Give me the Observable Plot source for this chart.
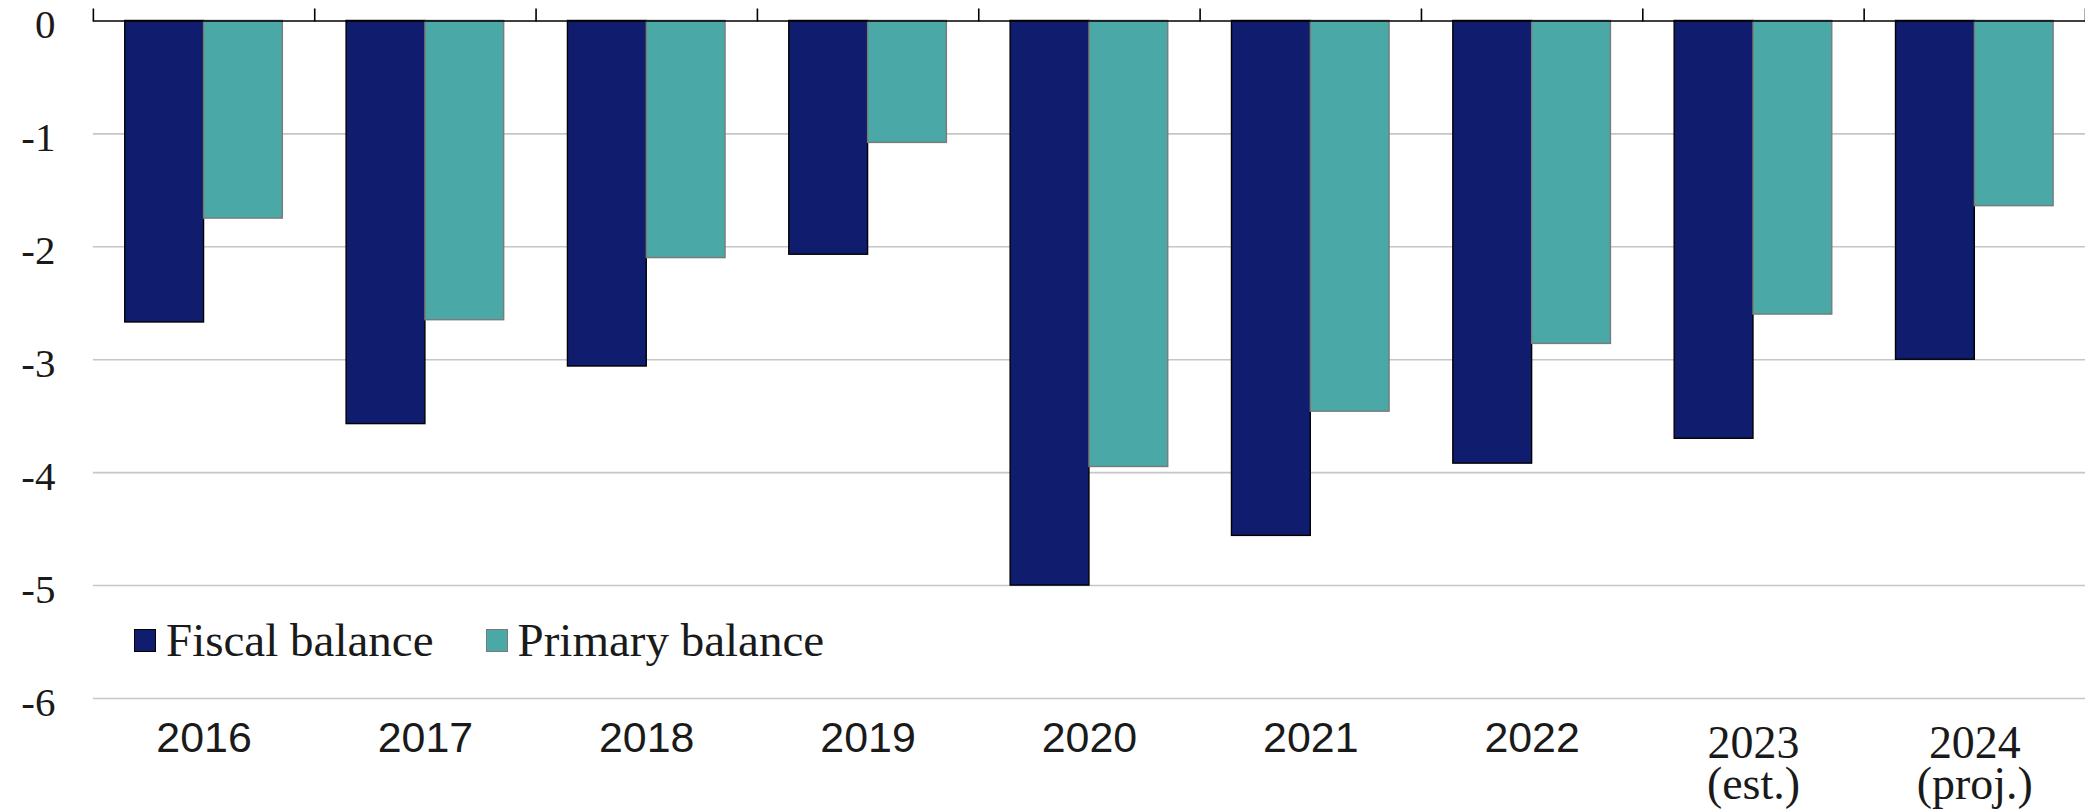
<!DOCTYPE html>
<html>
<head>
<meta charset="utf-8">
<script src="https://cdn.jsdelivr.net/npm/d3@7"></script>
<script src="https://cdn.jsdelivr.net/npm/@observablehq/plot@0.6"></script>
<style>
html, body { margin: 0; padding: 0; background: #fff; overflow: hidden; }
#wrap { position: relative; width: 2085px; height: 812px; overflow: hidden; }
#legend { position: absolute; left: 134px; top: 617px; display: flex; align-items: center;
  font-family: "Liberation Serif", serif; font-size: 47px; line-height: 47px; color: #1a1a1a; white-space: nowrap; }
#legend .sw { display: inline-block; width: 22px; height: 23px; box-sizing: border-box; margin-right: 10px; }
#legend .item { display: flex; align-items: center; margin-right: 52px; }
</style>
</head>
<body>
<div id="wrap"></div>
<script>
// ---- data ----
const years = ["2016", "2017", "2018", "2019", "2020", "2021", "2022", "2023\n(est.)", "2024\n(proj.)"];
const fiscalBalance = [-2.67, -3.57, -3.06, -2.07, -5.00, -4.56, -3.92, -3.70, -3.00];
const primaryBalance = [-1.75, -2.65, -2.10, -1.08, -3.95, -3.46, -2.86, -2.60, -1.64];
const seriesNames = ["Fiscal balance", "Primary balance"];
const yTicks = [0, -1, -2, -3, -4, -5, -6];

// ---- styles ----
const fills = ["#101c6e", "#4aa8a6"];
const strokes = ["#000000", "#7a7a7a"];
const groupPad = 0.144; // fraction of each year band left empty on each side

const fiscalRows = years.map((y, i) => ({i, year: y, value: fiscalBalance[i]}));
const primaryRows = years.map((y, i) => ({i, year: y, value: primaryBalance[i]}));
const sansIdx = years.map((y, i) => i).filter(i => !years[i].includes("\n"));
const serifIdx = years.map((y, i) => i).filter(i => years[i].includes("\n"));

const chart = Plot.plot({
  width: 2088,
  height: 812,
  marginLeft: 93,
  marginRight: 0,
  marginTop: 20.5,
  marginBottom: 113,
  x: {type: "linear", domain: [0, years.length], label: null},
  y: {domain: [-6, 0], label: null},
  style: {background: "white", overflow: "visible", color: "#1a1a1a", fontFamily: "Liberation Serif"},
  marks: [
    Plot.gridY(yTicks.filter(d => d !== 0), {stroke: "#c6c6c6", strokeOpacity: 1, strokeWidth: 1.6}),
    Plot.rectY(fiscalRows, {
      x1: d => d.i + groupPad, x2: d => d.i + 0.5, y1: 0, y2: "value",
      fill: fills[0], stroke: strokes[0], strokeWidth: 1.4
    }),
    Plot.rectY(primaryRows, {
      x1: d => d.i + 0.5, x2: d => d.i + 1 - groupPad, y1: 0, y2: "value",
      fill: fills[1], stroke: strokes[1], strokeWidth: 1.4
    }),
    Plot.ruleY([0], {stroke: "black", strokeWidth: 1.6}),
    // boundary ticks on top axis
    Plot.axisX(d3.range(years.length + 1), {
      anchor: "top", label: null, tickSize: 13, tickFormat: () => "", stroke: "black", strokeWidth: 1.6
    }),
    // year labels (sans)
    Plot.axisX(sansIdx.map(i => i + 0.5), {
      anchor: "bottom", label: null, tickSize: 0, tickPadding: 23,
      tickFormat: d => years[Math.floor(d)],
      fontFamily: "Liberation Sans", fontSize: 43
    }),
    // year labels (serif, two lines)
    Plot.axisX(serifIdx.map(i => i + 0.5), {
      anchor: "bottom", label: null, tickSize: 0, tickPadding: 30,
      tickFormat: d => years[Math.floor(d)],
      fontFamily: "Liberation Serif", fontSize: 46, lineHeight: 0.9
    }),
    Plot.axisY(yTicks, {
      anchor: "left", label: null, tickSize: 0, tickPadding: 38, dy: 4,
      tickFormat: d => String(d),
      fontFamily: "Liberation Serif", fontSize: 41
    })
  ]
});

const wrap = document.getElementById("wrap");
wrap.appendChild(chart);

const legend = document.createElement("div");
legend.id = "legend";
seriesNames.forEach((name, k) => {
  const item = document.createElement("span");
  item.className = "item";
  const sw = document.createElement("span");
  sw.className = "sw";
  sw.style.background = fills[k];
  sw.style.border = `1.5px solid ${strokes[k]}`;
  const label = document.createElement("span");
  label.textContent = name;
  item.appendChild(sw);
  item.appendChild(label);
  legend.appendChild(item);
});
wrap.appendChild(legend);
</script>
</body>
</html>
